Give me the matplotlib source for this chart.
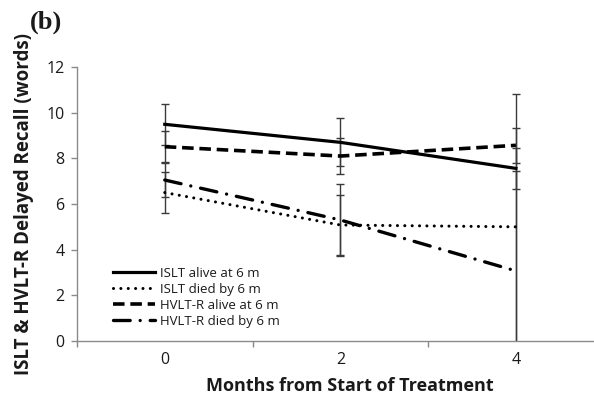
import matplotlib
import matplotlib.pyplot as plt

matplotlib.use('Agg')

months = ['0', '2', '4']

islt_alive = [9.49, 8.70, 7.56]
islt_alive_err = [0.89, 1.05, 0.90]

islt_died = [6.50, 5.08, 5.00]
islt_died_err = [0.88, 1.32, 5.82]

hvlt_alive = [8.51, 8.10, 8.57]
hvlt_alive_err = [0.67, 0.80, 0.77]

hvlt_died = [7.05, 5.30, 3.07]
hvlt_died_err = [0.76, 1.58, 4.39]

plt.rcParams['font.family'] = ['Open Sans', 'DejaVu Sans']
ink = '#1a1a1a'

fig = plt.figure(figsize=(5.94, 4.0), dpi=100)
ax = fig.add_axes([0.1296, 0.1475, 0.8867, 0.685])

pos = list(range(len(months)))
series = [
    (islt_alive, islt_alive_err, 'ISLT alive at 6 m', dict(linestyle='-', linewidth=2.3)),
    (islt_died, islt_died_err, 'ISLT died by 6 m',
     dict(linestyle=(0, (0.01, 2.4)), linewidth=2.2, dash_capstyle='round')),
    (hvlt_alive, hvlt_alive_err, 'HVLT-R alive at 6 m',
     dict(linestyle=(0, (3.2, 1.6)), linewidth=2.6)),
    (hvlt_died, hvlt_died_err, 'HVLT-R died by 6 m',
     dict(linestyle=(0, (5.0, 3.0, 0.01, 3.0)), linewidth=2.4, dash_capstyle='round')),
]

# error bars sit under the lines, like the Excel original
for vals, err, label, style in series:
    ax.errorbar(pos, vals, yerr=err, fmt='none', ecolor='#3a3a3a',
                elinewidth=1.0, capsize=2.9, capthick=1.0, zorder=2)

for vals, err, label, style in series:
    ax.plot(pos, vals, color='black', label=label, zorder=3, **style)

ax.set_xlim(-0.5, 2.5)
ax.set_ylim(0, 12)
ax.set_yticks(range(0, 13, 2))
ax.set_xticks(pos)
ax.set_xticklabels(months)
ax.set_xticks([-0.5, 0.5, 1.5, 2.5], minor=True)

for side in ['top', 'right']:
    ax.spines[side].set_visible(False)
for side in ['left', 'bottom']:
    ax.spines[side].set_color('#8a8a8a')
    ax.spines[side].set_linewidth(1.0)

ax.tick_params(axis='x', which='major', length=0, pad=8, labelsize=11.5, labelcolor=ink)
ax.tick_params(axis='x', which='minor', length=4, width=1.0, color='#8a8a8a', direction='out')
ax.tick_params(axis='y', length=4, width=1.0, color='#8a8a8a', direction='out',
               pad=5, labelsize=11.5, labelcolor=ink)

ax.set_ylabel('ISLT & HVLT-R Delayed Recall (words)', fontsize=13.5,
              fontweight='bold', color=ink)
ax.yaxis.set_label_coords(-0.082, 0.5)
ax.set_xlabel('Months from Start of Treatment', fontsize=13,
              fontweight='bold', color=ink)
ax.xaxis.set_label_coords(0.5185, -0.132)

leg = ax.legend(loc='lower left', bbox_to_anchor=(0.068, 0.048), frameon=False,
                fontsize=9.5, handlelength=3.2, handletextpad=0.4,
                labelspacing=0.23, borderpad=0, borderaxespad=0)
for t in leg.get_texts():
    t.set_color(ink)

fig.text(0.05, 0.944, '(b)', family='Liberation Serif', fontweight='bold',
         fontsize=19, color=ink, ha='left', va='center')

fig.savefig('out.png', dpi=100)
